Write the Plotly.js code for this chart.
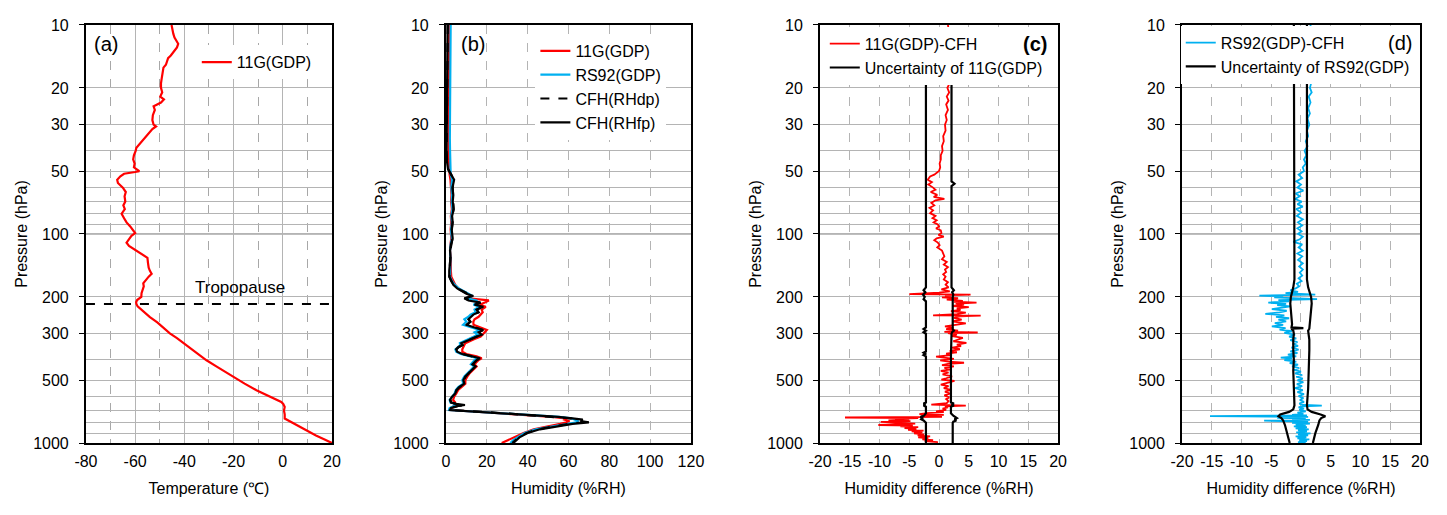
<!DOCTYPE html>
<html>
<head>
<meta charset="utf-8">
<script src="https://cdn.plot.ly/plotly-3.0.1.min.js"></script>
<style>html,body{margin:0;padding:0;background:#fff;}#chart{width:1447px;height:515px;}</style>
</head>
<body>
<div id="chart"></div>
<script>
// ---------- axis ticks ----------
const P_TICKS = [10, 20, 30, 50, 100, 200, 300, 500, 1000];
const P_MINOR = [40, 60, 70, 80, 90, 400, 600, 700, 800, 900];
const T_TICKS = [-80, -60, -40, -20, 0, 20];
const T_MINOR = [-70, -50, -30, -10, 10];
const RH_TICKS = [0, 20, 40, 60, 80, 100, 120];
const D_TICKS = [-20, -15, -10, -5, 0, 5, 10, 15, 20];
const TROPOPAUSE_P = 216;

// ---------- (a) temperature ----------
const P_T = [10, 10.5, 11, 11.5, 12, 12.3, 12.8, 13.3, 14, 14.4,
  15, 15.5, 16, 17, 18, 19, 20, 21, 22, 22.7,
  23.5, 24.5, 25.5, 27, 28.5, 30, 30.6, 31.5, 33, 35,
  37, 38.7, 40, 42, 44, 46, 48, 50, 50.5, 51.5,
  53, 55, 57, 60, 63, 66, 70, 73, 76, 80,
  84, 88, 92, 96, 99, 102, 106, 110, 114, 118,
  124, 130, 137, 145, 150, 155, 160, 167, 172, 178,
  185, 192, 200, 207, 212, 216, 222, 230, 240, 250,
  265, 280, 299, 315, 335, 360, 380, 402, 430, 460,
  482, 520, 559, 600, 636, 650, 672, 700, 730, 764,
  790, 822, 870, 920, 960, 1000];
const TEMP_11G = [-45.2, -45, -44.5, -44, -43, -42.5, -43, -44, -45.5, -46.6,
  -47, -47.5, -48.5, -49, -49.2, -49.5, -49.5, -49, -49.8, -48.3,
  -49.5, -52.5, -52, -52.8, -53, -52.5, -51.5, -53, -54.5, -56.5,
  -58, -59.5, -59.8, -60.5, -60.8, -60.2, -60.5, -58.3, -60, -64.5,
  -66, -67.3, -67, -65, -63.8, -64.3, -64, -64.8, -64.2, -65.5,
  -64.5, -63.5, -62, -61, -60, -61.5, -62.5, -63.5, -62.5, -60.5,
  -58, -55, -54.8, -54.5, -54, -53.3, -54.5, -55.8, -56.7, -56.5,
  -57, -57.4, -57.5, -59.2, -59.6, -59.5, -59, -57.5, -55.5, -54,
  -51, -48.5, -45.9, -43, -40, -36.4, -34, -31, -27, -23,
  -20.2, -15.5, -10.7, -5.5, -0.6, 0.2, 0.8, 0.5, 0.8, 0.8,
  3, 5.5, 9.5, 13.5, 16.8, 20];

// ---------- (b) humidity ----------
const P_RH = [10, 12, 15, 18, 22, 26, 30, 35, 40, 45,
  49, 52, 55, 60, 65, 70, 76, 82, 88, 95,
  100, 105, 112, 120, 130, 140, 150, 160, 168, 175,
  182, 188, 193, 198, 203, 208, 213, 218, 223, 230,
  237, 243, 249, 256, 263, 272, 280, 288, 295, 303,
  310, 318, 325, 333, 340, 348, 356, 366, 375, 385,
  393, 401, 410, 420, 430, 448, 465, 480, 500, 520,
  540, 558, 580, 600, 622, 640, 650, 658, 665, 680,
  695, 715, 734, 750, 762, 773, 785, 796, 810, 832,
  860, 895, 940, 970, 1000];
const RH_11G = [1.6, 1.5, 1.5, 1.4, 1.4, 1.3, 1.3, 1.2, 1.3, 1.4,
  1.5, 1.8, 2.2, 2.4, 2.7, 2.5, 2.9, 2.4, 2.6, 2.3,
  2.4, 2.6, 2.2, 2.0, 2.4, 2.3, 2.4, 2.6, 3.5, 4.5,
  6.0, 8.5, 10.5, 12.5, 11.0, 21.0, 19.0, 16.5, 19.5, 17.5,
  18.0, 17.0, 16.0, 14.0, 13.4, 13.5, 17.0, 20.0, 19.0, 18.0,
  17.0, 14.0, 11.5, 9.5, 9.0, 8.4, 8.0, 8.0, 10.0, 15.0,
  17.5, 16.0, 15.0, 14.0, 15.0, 13.0, 11.5, 10.5, 9.5, 9.5,
  7.5, 6.0, 5.0, 4.0, 3.5, 4.5, 4.5, 4.0, 3.5, 3.0,
  2.5, 22.0, 38.0, 52.0, 58.5, 58.0, 60.5, 59.0, 56.0, 50.0,
  43.0, 38.0, 33.0, 30.0, 27.3];
const RH_RS92 = [2.3, 2.2, 2.2, 2.1, 2.1, 2.0, 2.0, 1.9, 2.0, 2.0,
  2.0, 2.3, 3.0, 2.6, 3.0, 2.8, 3.2, 2.6, 2.9, 2.5,
  2.6, 2.9, 2.3, 2.0, 2.2, 2.0, 1.9, 2.0, 3.0, 4.3,
  6.3, 9.0, 11.0, 13.0, 10.0, 15.0, 15.5, 13.5, 16.5, 14.0,
  14.5, 12.0, 11.0, 9.0, 10.0, 8.4, 12.5, 16.5, 14.0, 15.5,
  13.5, 11.0, 8.5, 6.8, 7.0, 5.5, 4.6, 5.0, 7.2, 12.0,
  15.5, 14.0, 13.0, 12.2, 13.8, 12.0, 10.0, 9.0, 8.0, 8.5,
  6.0, 4.8, 4.2, 2.8, 1.8, 2.2, 4.2, 6.5, 4.0, 1.8,
  1.5, 22.5, 39.5, 55.5, 61.5, 63.0, 64.6, 64.0, 59.0, 52.0,
  44.0, 38.5, 35.0, 33.0, 31.5];
const RH_CFH_DP = [0.9, 0.8, 0.7, 0.7, 0.6, 0.5, 0.5, 0.2, 0.3, 0.6,
  1.1, 2.6, 3.9, 3.3, 3.5, 3.4, 3.7, 3.1, 3.2, 2.9,
  2.8, 3.2, 2.6, 2.1, 2.1, 1.9, 1.7, 1.7, 2.6, 3.7,
  5.6, 8.2, 10.3, 13.0, 9.3, 11.4, 16.6, 14.3, 18.0, 15.2,
  15.8, 13.2, 12.3, 11.2, 11.8, 10.2, 14.3, 18.0, 16.2, 17.2,
  14.8, 12.2, 9.8, 7.8, 8.2, 6.2, 5.2, 5.7, 8.3, 12.8,
  16.4, 15.2, 14.2, 13.2, 14.3, 12.4, 10.7, 9.7, 8.7, 9.2,
  6.7, 5.3, 4.6, 3.2, 2.2, 2.6, 4.8, 8.8, 5.8, 2.6,
  2.1, 23.5, 40.0, 56.0, 61.0, 64.0, 66.0, 67.0, 60.0, 53.0,
  45.0, 39.5, 35.5, 34.0, 32.5];
const RH_CFH_FP = [0.8, 0.7, 0.7, 0.6, 0.6, 0.5, 0.4, 0.1, 0.3, 0.5,
  1.0, 2.5, 4.0, 3.2, 3.6, 3.3, 3.8, 3.0, 3.3, 2.8,
  2.9, 3.3, 2.5, 2.0, 2.2, 1.8, 1.6, 1.6, 2.5, 3.6,
  5.5, 8.0, 10.0, 13.4, 9.0, 11.0, 17.0, 14.0, 18.3, 15.0,
  16.0, 13.4, 12.5, 11.0, 12.0, 10.0, 14.0, 18.3, 16.0, 17.5,
  15.0, 12.0, 9.5, 7.5, 8.0, 6.0, 5.0, 5.5, 8.0, 13.0,
  16.7, 15.0, 14.0, 13.0, 14.5, 12.6, 10.5, 9.5, 8.5, 9.0,
  6.5, 5.1, 4.5, 3.0, 2.0, 2.5, 5.0, 9.3, 6.0, 2.5,
  2.0, 23.0, 39.0, 55.0, 62.0, 67.0, 66.0, 70.0, 62.0, 54.0,
  46.0, 40.0, 36.0, 34.5, 33.0];

// ---------- (c) 11G(GDP) - CFH ----------
const P_C = [10, 10.5, 11, 12, 14, 16, 18, 19, 20, 21,
  22, 23, 24, 25.5, 27, 28.5, 30, 32, 34, 36,
  38, 40, 42, 44, 46, 48, 50, 52, 53, 55,
  56.5, 58, 60, 61.5, 63, 65, 66.5, 68, 69, 71,
  73, 75, 77, 79.5, 82, 84, 86, 88, 90, 92,
  94, 96, 99, 101, 103, 105, 107, 110, 113, 116,
  120, 124, 128, 132, 136, 140, 144, 148, 152, 156,
  160, 165, 170, 175, 180, 184, 188, 191, 194, 195,
  197, 199, 201, 203, 206, 209, 211, 213, 215, 218,
  221, 224, 227, 231, 234, 238, 242, 245, 246, 248,
  252, 257, 262, 268, 273, 277, 281, 285, 290, 294,
  296, 298, 303, 308, 314, 320, 326, 332, 338, 344,
  350, 356, 362, 368, 374, 380, 386, 390, 396, 402,
  408, 413, 418, 424, 430, 437, 444, 452, 460, 470,
  480, 490, 497, 505, 515, 525, 535, 546, 557, 568,
  580, 592, 605, 617, 630, 645, 655, 662, 667, 675,
  685, 695, 705, 712, 720, 728, 734, 740, 745, 750,
  755, 760, 766, 772, 780, 786, 793, 800, 807, 813,
  820, 826, 833, 840, 848, 856, 864, 872, 880, 890,
  900, 910, 920, 930, 940, 950, 960, 970, 980, 990,
  1000];
const DIFF_11G = [1.5, 1.6, 1.5, 1.6, 1.5, 1.7, 1.5, 1.8, 1.4, 1.7,
  1.3, 1.6, 1.2, 1.5, 1.1, 1.3, 1.0, 1.1, 0.7, 0.8,
  0.5, 0.6, 0.3, 0.3, 0.1, 0.2, 0.0, -0.8, -1.5, -1.9,
  -1.2, -1.8, -1.0, -0.6, -1.4, -0.3, -0.9, 0.9, -0.6, -1.3,
  -0.8, -1.6, -1.0, -1.5, -0.6, -1.1, -0.4, -0.9, -0.2, 0.0,
  -0.5, 0.3, 0.4, -0.1, 0.8, -0.4, -0.8, -0.2, 0.1, -0.3,
  0.5, 0.7, 0.9, 0.5, 1.3, 0.8, 1.5, 1.0, 1.2, 0.7,
  1.1, 0.8, 1.5, 1.1, 1.6, 0.4, 1.8, 0.0, -5.0, 5.3,
  1.0, 2.0, 0.5, 3.2, 1.3, 4.0, 2.5, 6.3, 2.8, 4.2,
  2.2, 5.0, 3.0, 3.6, 2.0, 4.5, 3.0, -1.0, 7.0, 3.5,
  2.5, 3.8, 2.2, 4.5, 2.8, 1.0, 2.4, 1.2, 3.2, 0.9,
  6.5, 1.5, 3.0, 2.2, 4.0, 3.2, 2.4, 4.6, 3.0, 3.7,
  2.2, 3.5, 1.8, 3.0, 1.2, 2.0, -0.5, 0.8, 2.5, 0.2,
  1.6, 4.2, 1.5, 0.5, 2.5, 0.9, 2.0, 0.3, 1.6, 0.6,
  2.2, 1.2, 0.4, 2.6, 1.3, 0.3, 1.6, 0.8, 2.0, 1.0,
  1.8, 0.9, 1.7, 1.2, 1.6, 1.3, -1.3, 4.5, 1.0, 1.5,
  0.6, 1.2, -0.5, 0.8, -2.0, -3.3, 0.8, -3.0, -2.0, 0.5,
  -15.8, -3.5, -7.4, -5.0, -8.5, -4.8, -9.8, -6.5, -4.0, -6.2,
  -10.2, -4.4, -6.5, -3.5, -5.8, -3.8, -5.2, -2.6, -4.6, -2.8,
  -4.2, -2.5, -3.6, -1.5, -3.5, -1.8, -2.8, -1.0, -2.4, -0.2,
  -1.3];
const P_UNC_11G = [15, 50, 56, 57.5, 59, 180, 186, 190, 195, 200,
  205, 210, 280, 285, 290, 295, 300, 365, 370, 375,
  380, 385, 640, 648, 655, 662, 670, 720, 740, 750,
  760, 770, 780, 790, 800, 815, 1000];
const UNC_11G_LO = [-2.2, -2.2, -2.2, -2.2, -2.2, -2.2, -2.6, -2.3, -2.7, -2.4,
  -2.6, -2.2, -2.2, -2.6, -2.2, -2.6, -2.2, -2.2, -2.6, -2.3,
  -2.6, -2.2, -2.2, -2.6, -2.3, -2.6, -2.2, -2.2, -2.5, -3.1,
  -2.8, -3.0, -2.6, -2.3, -2.2, -2.2, -2.2];
const UNC_11G_HI = [2.1, 2.1, 2.1, 2.6, 2.1, 2.1, 2.5, 2.2, 2.4, 2.3,
  2.3, 2.3, 2.3, 2.3, 2.5, 2.2, 2.1, 2.0, 2.0, 2.0,
  2.0, 2.0, 2.0, 2.5, 2.1, 2.5, 2.0, 2.0, 2.4, 2.7,
  3.0, 2.6, 2.9, 2.4, 2.3, 2.3, 2.3];

// ---------- (d) RS92(GDP) - CFH ----------
const P_D = [10, 11, 12, 14, 16, 18, 19, 20, 21, 22,
  23.5, 25, 26.5, 28, 30, 32, 34, 36, 38, 40,
  42, 44, 46, 48, 50, 52, 54, 56, 58, 60,
  62, 64, 66, 68, 70, 72, 74, 76, 79, 82,
  85, 88, 91, 94, 97, 100, 103, 106, 109, 112,
  116, 120, 124, 128, 133, 138, 143, 148, 153, 158,
  163, 168, 173, 178, 182, 186, 189, 192, 195, 197,
  199, 201, 203, 205, 207, 210, 213, 216, 219, 222,
  225, 229, 233, 237, 241, 245, 249, 253, 257, 262,
  267, 272, 277, 282, 287, 292, 297, 303, 310, 316,
  322, 329, 336, 343, 350, 357, 364, 371, 378, 385,
  390, 395, 401, 408, 415, 422, 430, 438, 447, 455,
  464, 473, 482, 492, 502, 512, 523, 535, 547, 559,
  571, 584, 597, 610, 623, 636, 648, 658, 663, 667,
  675, 685, 695, 705, 715, 725, 733, 738, 743, 746,
  750, 754, 758, 762, 768, 775, 782, 787, 793, 800,
  808, 816, 824, 832, 840, 850, 860, 870, 880, 890,
  900, 910, 920, 930, 940, 950, 960, 970, 980, 990,
  1000];
const DIFF_RS92 = [1.6, 1.7, 1.5, 1.6, 1.8, 1.5, 1.7, 1.5, 1.8, 1.3,
  1.6, 1.2, 1.5, 1.1, 1.4, 1.0, 1.2, 0.8, 1.1, 0.6,
  0.9, 0.5, 0.8, 0.3, 0.5, -0.4, 0.2, -0.8, 0.0, -0.6,
  0.4, -0.9, -0.2, -1.0, 0.1, -0.6, 0.3, -0.8, 0.0, -0.7,
  0.3, -0.5, 0.2, -0.6, 0.1, -0.5, 0.3, -0.2, -1.3, 0.2,
  -0.4, 0.3, -0.6, 0.2, -0.5, 0.3, -0.3, 0.3, -0.2, 0.2,
  -0.4, 0.1, -0.7, -0.3, -0.9, -1.8, -0.5, -2.6, 2.4, -7.0,
  -3.0, -4.5, -1.5, 2.7, -3.8, -2.0, -5.5, -2.5, -4.0, -1.8,
  -3.2, -4.9, -2.4, -3.6, -6.0, -2.8, -4.2, -2.0, -3.8, -2.5,
  -4.4, -3.0, -4.9, -2.6, -3.6, -1.5, -2.8, -1.0, -2.0, -0.8,
  -1.8, -0.6, -1.4, -0.5, -1.6, -0.4, -1.8, -0.6, -2.2, -0.8,
  -3.4, -1.5, -2.8, -0.8, -1.9, -0.5, -1.5, -0.3, -1.2, 0.0,
  -1.0, 0.2, -0.8, 0.3, -0.6, 0.4, -0.7, 0.2, -1.0, 0.3,
  -0.6, 0.5, -0.4, 0.4, -0.2, 0.5, -0.3, 0.6, 3.5, 0.2,
  -0.4, 0.5, -0.3, 0.8, -0.6, 0.4, -1.5, 1.0, -15.3, -3.0,
  1.2, -2.0, -4.0, 0.8, -1.5, 1.5, -6.2, -0.8, 1.2, -1.5,
  1.5, -0.9, 0.8, -1.2, 1.0, -0.9, 1.3, -0.5, 1.0, -0.8,
  1.6, -0.5, 1.2, -0.9, 0.9, -0.6, 1.4, -0.3, 1.0, -0.5,
  0.8];
const P_UNC_RS92 = [10, 50, 100, 165, 180, 190, 200, 215, 230, 250,
  270, 280, 282, 284, 290, 300, 320, 360, 400, 450,
  550, 620, 660, 690, 710, 730, 745, 760, 780, 820,
  900, 1000];
const UNC_RS92_LO = [-1.2, -1.1, -1.1, -1.1, -1.3, -1.5, -1.7, -1.8, -1.7, -1.6,
  -1.5, -1.6, 0.4, -1.6, -1.3, -1.2, -1.3, -1.3, -1.2, -1.3,
  -1.2, -1.1, -1.1, -1.3, -2.0, -3.5, -3.8, -3.3, -3.0, -2.7,
  -2.3, -1.9];
const UNC_RS92_HI = [1.0, 1.0, 1.0, 1.0, 1.2, 1.5, 1.7, 1.8, 1.7, 1.6,
  1.5, 1.4, 1.4, 1.4, 1.2, 1.3, 1.4, 1.4, 1.3, 1.3,
  1.2, 1.1, 1.0, 1.1, 1.8, 3.3, 4.1, 3.4, 3.1, 2.9,
  2.4, 2.0];

// ---------- styling ----------
const RED = '#ff0000', BLUE = '#00b0f0', BLACK = '#000000';
const GRID = '#b4b4b4';
const FONT = 'Liberation Sans, Arial, sans-serif';
const YDOM = [0.1398, 0.9515];
const XDOMS = [[0.0594, 0.2294], [0.3082, 0.4775], [0.5667, 0.7312], [0.8169, 0.9813]];

function yAxis(i) {
  return {
    domain: YDOM, anchor: i === 1 ? 'x' : 'x' + i,
    type: 'log', range: [3, 1],
    tickmode: 'array', tickvals: P_TICKS, ticktext: P_TICKS.map(String),
    showgrid: true, gridcolor: GRID, gridwidth: 1,
    minor: {tickmode: 'array', tickvals: P_MINOR, showgrid: true, gridcolor: GRID, gridwidth: 1},
    ticks: 'outside', ticklen: 5, tickwidth: 1, tickcolor: BLACK, ticklabelstandoff: 7,
    showline: true, mirror: true, linecolor: BLACK, linewidth: 2,
    zeroline: false, automargin: false,
    tickfont: {family: FONT, size: 16, color: BLACK},
    title: {text: 'Pressure (hPa)', font: {family: FONT, size: 16, color: BLACK}, standoff: 2}
  };
}
function xAxis(i, range, ticks, title, dashMajor, minorVals) {
  const ax = {
    domain: XDOMS[i - 1], anchor: i === 1 ? 'y' : 'y' + i,
    range: range, tickmode: 'array', tickvals: ticks, ticktext: ticks.map(String),
    showgrid: true, gridcolor: GRID, gridwidth: 1, griddash: dashMajor ? 'dash' : 'solid',
    ticks: '', showline: true, mirror: true, linecolor: BLACK, linewidth: 2,
    zeroline: false, automargin: false, ticklabelstandoff: 3,
    tickfont: {family: FONT, size: 16, color: BLACK},
    title: {text: title, font: {family: FONT, size: 16, color: BLACK}, standoff: 14}
  };
  if (minorVals) ax.minor = {tickmode: 'array', tickvals: minorVals, showgrid: true, gridcolor: '#a8a8a8', griddash: 'dash', gridwidth: 1};
  return ax;
}

const traces = [
  {x: TEMP_11G, y: P_T, xaxis: 'x', yaxis: 'y', mode: 'lines', name: '11G(GDP)', line: {color: RED, width: 2.2}, legend: 'legend'},
  {x: RH_11G, y: P_RH, xaxis: 'x2', yaxis: 'y2', mode: 'lines', name: '11G(GDP)', line: {color: RED, width: 2.2}, legend: 'legend2'},
  {x: RH_RS92, y: P_RH, xaxis: 'x2', yaxis: 'y2', mode: 'lines', name: 'RS92(GDP)', line: {color: BLUE, width: 2.2}, legend: 'legend2'},
  {x: RH_CFH_DP, y: P_RH, xaxis: 'x2', yaxis: 'y2', mode: 'lines', name: 'CFH(RHdp)', line: {color: BLACK, width: 2.2, dash: 'dash'}, legend: 'legend2'},
  {x: RH_CFH_FP, y: P_RH, xaxis: 'x2', yaxis: 'y2', mode: 'lines', name: 'CFH(RHfp)', line: {color: BLACK, width: 2.2}, legend: 'legend2'},
  {x: DIFF_11G, y: P_C, xaxis: 'x3', yaxis: 'y3', mode: 'lines', name: '11G(GDP)-CFH', line: {color: RED, width: 1.8}, legend: 'legend3'},
  {x: UNC_11G_LO, y: P_UNC_11G, xaxis: 'x3', yaxis: 'y3', mode: 'lines', name: 'Uncertainty of 11G(GDP)', line: {color: BLACK, width: 2.2}, legend: 'legend3'},
  {x: UNC_11G_HI, y: P_UNC_11G, xaxis: 'x3', yaxis: 'y3', mode: 'lines', name: 'Uncertainty of 11G(GDP)', line: {color: BLACK, width: 2.2}, showlegend: false},
  {x: DIFF_RS92, y: P_D, xaxis: 'x4', yaxis: 'y4', mode: 'lines', name: 'RS92(GDP)-CFH', line: {color: BLUE, width: 1.8}, legend: 'legend4'},
  {x: UNC_RS92_LO, y: P_UNC_RS92, xaxis: 'x4', yaxis: 'y4', mode: 'lines', name: 'Uncertainty of RS92(GDP)', line: {color: BLACK, width: 2.2}, legend: 'legend4'},
  {x: UNC_RS92_HI, y: P_UNC_RS92, xaxis: 'x4', yaxis: 'y4', mode: 'lines', name: 'Uncertainty of RS92(GDP)', line: {color: BLACK, width: 2.2}, showlegend: false}
];

const legBase = {bgcolor: '#ffffff', borderwidth: 0, font: {family: FONT, size: 16, color: BLACK}, xanchor: 'left', yanchor: 'top', tracegroupgap: 0};
const shapes = [];
['', '2', '3', '4'].forEach(s => {
  shapes.push({type: 'line', xref: 'x' + s + ' domain', x0: 0, x1: 1, yref: 'y' + s, y0: 100, y1: 100, line: {color: '#7a7a7a', width: 1}, layer: 'below'});
});
shapes.push({type: 'line', xref: 'x domain', x0: 0, x1: 1, yref: 'y', y0: TROPOPAUSE_P, y1: TROPOPAUSE_P, line: {color: BLACK, width: 2, dash: 'dash'}});

const ann = (t, x, y, bold, size) => ({text: bold ? '<b>' + t + '</b>' : t, xref: 'paper', yref: 'paper', x: x, y: y, showarrow: false, xanchor: 'center', yanchor: 'middle', font: {family: FONT, size: size || 20, color: BLACK}});

const layout = {
  width: 1447, height: 515, margin: {l: 0, r: 0, t: 0, b: 0},
  paper_bgcolor: '#ffffff', plot_bgcolor: '#ffffff', showlegend: true,
  font: {family: FONT, color: BLACK},
  xaxis: xAxis(1, [-80, 20], T_TICKS, 'Temperature (℃)', false, T_MINOR),
  xaxis2: xAxis(2, [0, 120], RH_TICKS, 'Humidity (%RH)', true),
  xaxis3: xAxis(3, [-20, 20], D_TICKS, 'Humidity difference (%RH)', true),
  xaxis4: xAxis(4, [-20, 20], D_TICKS, 'Humidity difference (%RH)', true),
  yaxis: yAxis(1), yaxis2: yAxis(2), yaxis3: yAxis(3), yaxis4: yAxis(4),
  legend: Object.assign({}, legBase, {x: 0.136, y: 0.912}),
  legend2: Object.assign({}, legBase, {x: 0.370, y: 0.934}),
  legend3: Object.assign({}, legBase, {x: 0.570, y: 0.948}),
  legend4: Object.assign({}, legBase, {x: 0.816, y: 0.950}),
  shapes: shapes,
  annotations: [
    ann('(a)', 0.0733, 0.9146),
    ann('(b)', 0.3269, 0.9146),
    ann('(c)', 0.7153, 0.9146, true),
    ann('(d)', 0.9675, 0.9165),
    ann('Tropopause', 0.1659, 0.4427, false, 17)
  ]
};

Plotly.newPlot('chart', traces, layout, {staticPlot: true, displayModeBar: false});
</script>
</body>
</html>
